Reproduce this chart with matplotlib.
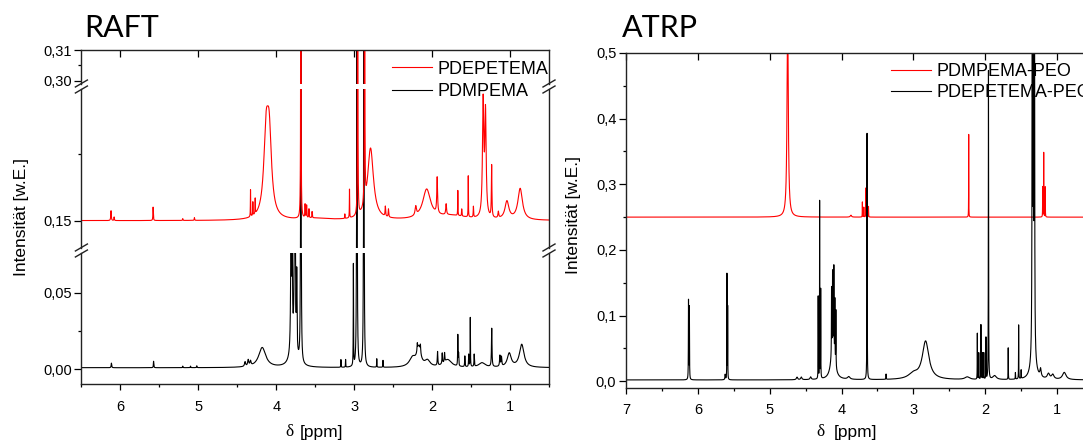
import numpy as np
import matplotlib.pyplot as plt
from matplotlib.lines import Line2D
from matplotlib.ticker import FixedLocator, MultipleLocator, FuncFormatter

plt.rcParams['font.family'] = ['Liberation Sans', 'DejaVu Sans']

W, H = 1083, 441

# ---- RAFT: PDEPETEMA (red, offset 0.15) ----
raft_red_base = 0.15
raft_red_ppm = [6.12, 6.08, 5.58, 5.20, 5.05, 4.33, 4.30, 4.27, 4.13, 4.09,
                3.684, 3.63, 3.61, 3.58, 3.54, 3.12, 3.06, 2.955, 2.866, 2.79,
                2.60, 2.56, 2.21, 2.07, 1.935, 1.82, 1.67, 1.62, 1.536, 1.47,
                1.345, 1.315, 1.236, 1.15, 1.04, 0.87, 1.75, 3.5]
raft_red_height = [0.011, 0.004, 0.015, 0.002, 0.003, 0.030, 0.015, 0.017, 0.085, 0.085,
                   0.700, 0.015, 0.014, 0.010, 0.007, 0.005, 0.032, 0.700, 0.700, 0.080,
                   0.011, 0.009, 0.010, 0.033, 0.040, 0.012, 0.028, 0.008, 0.046, 0.012,
                   0.128, 0.115, 0.058, 0.007, 0.020, 0.035, 0.005, 0.002]
raft_red_hwhm = [0.004, 0.003, 0.003, 0.003, 0.003, 0.002, 0.002, 0.002, 0.035, 0.035,
                 0.002, 0.003, 0.003, 0.003, 0.003, 0.002, 0.002, 0.002, 0.002, 0.045,
                 0.004, 0.004, 0.010, 0.060, 0.006, 0.006, 0.002, 0.003, 0.002, 0.003,
                 0.010, 0.010, 0.004, 0.006, 0.030, 0.035, 0.25, 0.2]

# ---- RAFT: PDMPEMA (black) ----
raft_blk_base = 0.001
raft_blk_ppm = [6.115, 5.574, 5.20, 5.10, 5.02, 4.40, 4.36, 4.33, 4.18, 3.81,
                3.795, 3.765, 3.755, 3.737, 3.78, 3.684, 3.17, 3.11, 3.01, 2.965,
                2.876, 2.71, 2.63, 2.25, 2.17, 2.19, 2.15, 2.06, 1.93, 1.87,
                1.84, 1.80, 1.67, 1.66, 1.58, 1.53, 1.51, 1.46, 1.36, 1.235,
                1.13, 1.11, 1.01, 0.85]
raft_blk_height = [0.003, 0.0042, 0.001, 0.001, 0.0012, 0.003, 0.004, 0.003, 0.013, 0.085,
                   0.060, 0.085, 0.060, 0.050, 0.015, 0.900, 0.005, 0.005, 0.066, 0.900,
                   0.900, 0.0055, 0.0045, 0.006, 0.012, 0.005, 0.005, 0.004, 0.009, 0.007,
                   0.006, 0.005, 0.020, 0.008, 0.007, 0.008, 0.032, 0.008, 0.003, 0.025,
                   0.007, 0.006, 0.009, 0.015]
raft_blk_hwhm = [0.004, 0.003, 0.003, 0.003, 0.003, 0.008, 0.008, 0.008, 0.055, 0.006,
                 0.004, 0.006, 0.004, 0.004, 0.040, 0.002, 0.002, 0.002, 0.002, 0.002,
                 0.002, 0.002, 0.002, 0.050, 0.030, 0.004, 0.004, 0.040, 0.004, 0.004,
                 0.004, 0.060, 0.0025, 0.003, 0.003, 0.003, 0.002, 0.003, 0.050, 0.004,
                 0.005, 0.005, 0.030, 0.035]

# ---- ATRP: PDMPEMA-PEO (red, offset 0.25) ----
atrp_red_base = 0.25
atrp_red_ppm = [4.75, 3.87, 3.71, 3.69, 3.66, 3.645, 3.625, 2.23, 1.20, 1.186, 1.165]
atrp_red_height = [0.32, 0.003, 0.023, 0.015, 0.044, 0.044, 0.016, 0.126, 0.046, 0.098, 0.046]
atrp_red_hwhm = [0.010, 0.010, 0.0015, 0.0015, 0.0015, 0.0015, 0.0015, 0.0012, 0.0015, 0.0012, 0.0015]

# ---- ATRP: PDEPETEMA-PEO (black) ----
atrp_blk_base = 0.002
atrp_blk_ppm = [6.13, 6.118, 5.62, 5.595, 5.585, 4.62, 4.56, 4.43, 4.325, 4.305,
                4.29, 4.12, 4.139, 4.125, 4.107, 4.093, 4.079, 3.90, 3.645, 3.38,
                3.00, 2.83, 2.25, 2.11, 2.09, 2.06, 2.04, 2.02, 1.99, 1.955,
                1.87, 1.68, 1.58, 1.535, 1.50, 1.345, 1.33, 1.315, 1.33, 1.23,
                1.12, 1.06, 0.90]
atrp_blk_height = [0.12, 0.11, 0.008, 0.16, 0.11, 0.004, 0.004, 0.004, 0.125, 0.27,
                   0.135, 0.055, 0.10, 0.11, 0.125, 0.09, 0.085, 0.004, 0.375, 0.008,
                   0.008, 0.058, 0.004, 0.07, 0.04, 0.083, 0.04, 0.04, 0.063, 0.47,
                   0.006, 0.048, 0.01, 0.082, 0.013, 0.9, 0.6, 0.7, 0.05, 0.012,
                   0.008, 0.007, 0.011]
atrp_blk_hwhm = [0.002, 0.002, 0.004, 0.0015, 0.0015, 0.01, 0.01, 0.01, 0.0015, 0.0015,
                 0.0015, 0.03, 0.002, 0.002, 0.002, 0.002, 0.002, 0.02, 0.002, 0.002,
                 0.08, 0.055, 0.04, 0.0015, 0.0015, 0.0015, 0.0015, 0.0015, 0.0015, 0.002,
                 0.03, 0.0015, 0.002, 0.0015, 0.002, 0.003, 0.003, 0.003, 0.03, 0.01,
                 0.02, 0.02, 0.03]


def spectrum(ppm, pos, height, hwhm, base):
    pos = np.asarray(pos)[:, None]
    h = np.asarray(height)[:, None]
    g = np.asarray(hwhm)[:, None]
    return base + (h * g ** 2 / ((ppm[None, :] - pos) ** 2 + g ** 2)).sum(axis=0)


ppm = np.linspace(7.2, 0.3, 27601)
raft_red = spectrum(ppm, raft_red_ppm, raft_red_height, raft_red_hwhm, raft_red_base)
raft_blk = spectrum(ppm, raft_blk_ppm, raft_blk_height, raft_blk_hwhm, raft_blk_base)
atrp_red = spectrum(ppm, atrp_red_ppm, atrp_red_height, atrp_red_hwhm, atrp_red_base)
atrp_blk = spectrum(ppm, atrp_blk_ppm, atrp_blk_height, atrp_blk_hwhm, atrp_blk_base)

fig = plt.figure(figsize=(W / 100, H / 100), dpi=100)


def px_axes(x0, y0, x1, y1):
    return fig.add_axes([x0 / W, 1 - y1 / H, (x1 - x0) / W, (y1 - y0) / H])


fmt2 = FuncFormatter(lambda v, p: f'{v:.2f}'.replace('.', ','))
fmt1 = FuncFormatter(lambda v, p: f'{v:.1f}'.replace('.', ','))
LW = 0.8
TICK_FS = 10.5
LABEL_FS = 12.5
LEG_FS = 13
SPINE_C = '#222222'

# ---------------- RAFT (broken y axis) ----------------
xl0, xl1 = 81.4, 549
ax_top = px_axes(xl0, 50, xl1, 84)
ax_mid = px_axes(xl0, 89, xl1, 248)
ax_low = px_axes(xl0, 253, xl1, 384.3)
segments = [(ax_top, (0.29903, 0.31)), (ax_mid, (0.1194, 0.2974)), (ax_low, (-0.0098, 0.0759))]

for ax, ylim in segments:
    ax.plot(ppm, raft_blk, color='black', lw=LW)
    ax.plot(ppm, raft_red, color='red', lw=LW)
    ax.set_xlim(6.5, 0.5)
    ax.set_ylim(*ylim)
    for s in ax.spines.values():
        s.set_color(SPINE_C)
        s.set_linewidth(1.0)
    ax.spines['top'].set_visible(ax is ax_top)
    ax.spines['bottom'].set_visible(ax is ax_low)
    ax.yaxis.set_major_formatter(fmt2)
    ax.tick_params(axis='y', which='major', direction='out', length=5, width=0.9,
                   labelsize=TICK_FS, pad=2)
    ax.tick_params(axis='y', which='minor', direction='out', length=2, width=0.9)

ax_top.yaxis.set_major_locator(FixedLocator([0.30, 0.31]))
ax_top.yaxis.set_minor_locator(FixedLocator([0.305]))
ax_top.xaxis.set_major_locator(MultipleLocator(1))
ax_top.tick_params(axis='x', which='major', top=True, bottom=False, labeltop=False,
                   labelbottom=False, direction='in', length=5, width=0.9)
ax_top.tick_params(axis='x', which='minor', top=False, bottom=False)

ax_mid.yaxis.set_major_locator(FixedLocator([0.15]))
ax_mid.yaxis.set_minor_locator(FixedLocator([0.225]))
ax_mid.tick_params(axis='x', which='both', top=False, bottom=False, labelbottom=False)

ax_low.yaxis.set_major_locator(FixedLocator([0.0, 0.05]))
ax_low.yaxis.set_minor_locator(FixedLocator([0.025]))
ax_low.xaxis.set_major_locator(MultipleLocator(1))
ax_low.xaxis.set_minor_locator(MultipleLocator(0.5))
ax_low.tick_params(axis='x', which='major', direction='out', length=4, width=0.9,
                   labelsize=TICK_FS, pad=7)
ax_low.tick_params(axis='x', which='minor', direction='out', length=2, width=0.9)

# break marks
for yc in (86.5, 250.5):
    for xc in (xl0, xl1):
        for dy in (-3.0, 3.0):
            y = yc + dy
            fig.add_artist(Line2D([(xc - 6) / W, (xc + 6) / W],
                                  [1 - (y + 3.5) / H, 1 - (y - 3.5) / H],
                                  color=SPINE_C, lw=1.0))

# ---------------- ATRP ----------------
ax_r = px_axes(626, 53, 1093, 387.7)
ax_r.plot(ppm, atrp_red, color='red', lw=LW)
ax_r.plot(ppm, atrp_blk, color='black', lw=LW)
ax_r.set_xlim(7, 0.5)
ax_r.set_ylim(-0.0098, 0.5)
for s in ax_r.spines.values():
    s.set_color(SPINE_C)
    s.set_linewidth(1.0)
ax_r.yaxis.set_major_locator(FixedLocator([0.0, 0.1, 0.2, 0.3, 0.4, 0.5]))
ax_r.yaxis.set_minor_locator(FixedLocator([0.05, 0.15, 0.25, 0.35, 0.45]))
ax_r.yaxis.set_major_formatter(fmt1)
ax_r.tick_params(axis='y', which='major', direction='out', length=5, width=0.9,
                 labelsize=TICK_FS, pad=2)
ax_r.tick_params(axis='y', which='minor', direction='out', length=2, width=0.9)
ax_r.xaxis.set_major_locator(MultipleLocator(1))
ax_r.xaxis.set_minor_locator(MultipleLocator(0.5))
ax_r.tick_params(axis='x', which='major', direction='out', length=4, width=0.9,
                 labelsize=TICK_FS, pad=7)
ax_r.tick_params(axis='x', which='minor', direction='out', length=2, width=0.9)
sec = ax_r.secondary_xaxis('top')
sec.xaxis.set_major_locator(MultipleLocator(1))
sec.tick_params(axis='x', which='major', direction='in', length=5, width=0.9, labeltop=False)
sec.tick_params(axis='x', which='minor', top=False)
sec.spines['top'].set_visible(False)

# ---------------- legends ----------------
h_red = Line2D([], [], color='red', lw=LW)
h_blk = Line2D([], [], color='black', lw=LW)
leg_kw = dict(loc='upper left', frameon=False, fontsize=LEG_FS, handlelength=2.2,
              handletextpad=0.3, borderpad=0, borderaxespad=0)
fig.legend([h_red, h_blk], ['PDEPETEMA', 'PDMPEMA'], labelspacing=0.31,
           bbox_to_anchor=(392 / W, 1 - 60.5 / H), **leg_kw)
fig.legend([h_red, h_blk], ['PDMPEMA-PEO', 'PDEPETEMA-PEO'], labelspacing=0.23,
           bbox_to_anchor=(891 / W, 1 - 63 / H), **leg_kw)

# ---------------- titles and axis labels ----------------
title_font = ['Lato', 'DejaVu Sans']
fig.text(84 / W, 1 - 37 / H, 'RAFT', fontsize=22, family=title_font, va='baseline')
fig.text(622 / W, 1 - 37 / H, 'ATRP', fontsize=22, family=title_font, va='baseline')

fig.text(22 / W, 1 - 217 / H, 'Intensität [w.E.]', rotation=90, ha='center', va='center',
         fontsize=LABEL_FS)
fig.text(573 / W, 1 - 215 / H, 'Intensität [w.E.]', rotation=90, ha='center', va='center',
         fontsize=LABEL_FS)

for xd, xp in ((285, 300), (816.5, 834)):
    fig.text(xd / W, 1 - 436.5 / H, 'δ', fontsize=LABEL_FS,
             family=['Liberation Serif', 'DejaVu Serif'], va='baseline')
    fig.text(xp / W, 1 - 436.5 / H, '[ppm]', fontsize=LABEL_FS, va='baseline')

fig.savefig('out.png', dpi=100)
